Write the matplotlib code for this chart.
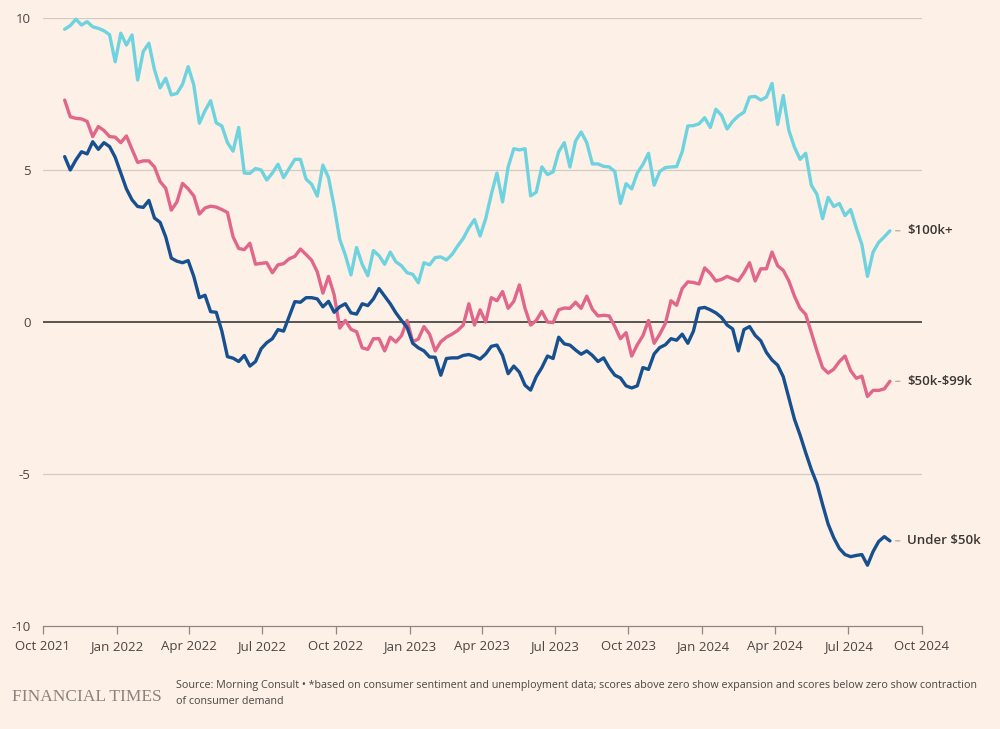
import pandas as pd
import matplotlib
matplotlib.use('Agg')
import matplotlib.pyplot as plt
import matplotlib.dates as mdates

# Data mingguan
dates = pd.date_range('2021-10-28', periods=148, freq='7D')

high_income = [
    9.63, 9.75, 9.96, 9.77, 9.88, 9.71, 9.66, 9.58, 9.45, 8.56,
    9.50, 9.11, 9.44, 7.96, 8.90, 9.17, 8.30, 7.70, 8.02, 7.47,
    7.52, 7.82, 8.40, 7.80, 6.54, 6.95, 7.28, 6.55, 6.45, 5.90,
    5.62, 6.40, 4.90, 4.89, 5.05, 5.00, 4.67, 4.90, 5.19, 4.75,
    5.05, 5.35, 5.35, 4.70, 4.53, 4.14, 5.16, 4.75, 3.80, 2.72,
    2.20, 1.55, 2.45, 1.90, 1.52, 2.35, 2.18, 1.90, 2.30, 1.98,
    1.85, 1.62, 1.57, 1.29, 1.95, 1.88, 2.12, 2.14, 2.04, 2.22,
    2.50, 2.75, 3.10, 3.37, 2.83, 3.40, 4.20, 4.90, 3.95, 5.10,
    5.70, 5.66, 5.70, 4.15, 4.27, 5.10, 4.85, 4.94, 5.60, 5.90,
    5.10, 5.95, 6.25, 5.90, 5.20, 5.20, 5.12, 5.10, 4.95, 3.90,
    4.55, 4.38, 4.90, 5.18, 5.55, 4.50, 4.95, 5.08, 5.10, 5.11,
    5.60, 6.45, 6.46, 6.52, 6.72, 6.40, 7.00, 6.80, 6.35, 6.60,
    6.78, 6.90, 7.40, 7.42, 7.30, 7.40, 7.85, 6.50, 7.45, 6.30,
    5.75, 5.35, 5.55, 4.50, 4.20, 3.40, 4.10, 3.80, 3.90, 3.50,
    3.70, 3.10, 2.55, 1.50, 2.30, 2.62, 2.80, 3.00,
]

mid_income = [
    7.30, 6.75, 6.70, 6.68, 6.60, 6.10, 6.43, 6.30, 6.10, 6.08,
    5.90, 6.12, 5.68, 5.25, 5.30, 5.30, 5.10, 4.62, 4.40, 3.68,
    3.95, 4.56, 4.38, 4.15, 3.55, 3.75, 3.81, 3.78, 3.70, 3.60,
    2.80, 2.42, 2.38, 2.59, 1.90, 1.93, 1.95, 1.62, 1.88, 1.92,
    2.08, 2.16, 2.40, 2.22, 2.03, 1.65, 0.95, 1.50, 0.90, -0.20,
    0.05, -0.24, -0.32, -0.85, -0.90, -0.55, -0.55, -0.95, -0.50, -0.66,
    -0.45, 0.05, -0.65, -0.56, -0.15, -0.40, -0.95, -0.65, -0.50, -0.40,
    -0.28, -0.10, 0.60, -0.10, 0.40, 0.00, 0.80, 0.70, 1.00, 0.45,
    0.68, 1.22, 0.45, -0.10, 0.05, 0.35, 0.00, -0.02, 0.40, 0.46,
    0.45, 0.65, 0.45, 0.85, 0.42, 0.20, 0.22, 0.20, -0.15, -0.55,
    -0.35, -1.12, -0.75, -0.45, 0.05, -0.70, -0.40, -0.05, 0.70, 0.55,
    1.10, 1.32, 1.30, 1.25, 1.78, 1.60, 1.35, 1.40, 1.50, 1.42,
    1.35, 1.62, 1.95, 1.35, 1.75, 1.75, 2.30, 1.85, 1.70, 1.35,
    0.85, 0.45, 0.25, -0.35, -0.95, -1.50, -1.68, -1.55, -1.30, -1.12,
    -1.60, -1.85, -1.78, -2.45, -2.25, -2.25, -2.20, -1.95,
]

low_income = [
    5.44, 5.00, 5.33, 5.60, 5.53, 5.93, 5.68, 5.90, 5.77, 5.42,
    4.90, 4.38, 4.02, 3.80, 3.77, 4.00, 3.42, 3.28, 2.80, 2.10,
    2.00, 1.95, 2.02, 1.50, 0.80, 0.88, 0.34, 0.32, -0.30, -1.14,
    -1.19, -1.30, -1.10, -1.45, -1.30, -0.88, -0.68, -0.55, -0.25, -0.30,
    0.18, 0.67, 0.65, 0.80, 0.80, 0.76, 0.50, 0.68, 0.32, 0.50,
    0.60, 0.30, 0.26, 0.60, 0.54, 0.76, 1.10, 0.85, 0.60, 0.30,
    0.05, -0.18, -0.70, -0.85, -0.95, -1.15, -1.16, -1.75, -1.20, -1.18,
    -1.18, -1.10, -1.07, -1.13, -1.22, -1.05, -0.80, -0.76, -1.10, -1.70,
    -1.45, -1.65, -2.08, -2.24, -1.80, -1.50, -1.12, -1.20, -0.50, -0.72,
    -0.76, -0.92, -1.06, -0.95, -1.10, -1.30, -1.18, -1.50, -1.75, -1.84,
    -2.10, -2.17, -2.10, -1.50, -1.56, -1.05, -0.84, -0.75, -0.55, -0.60,
    -0.40, -0.70, -0.30, 0.45, 0.48, 0.40, 0.30, 0.15, -0.10, -0.23,
    -0.95, -0.25, -0.15, -0.44, -0.62, -1.00, -1.25, -1.42, -1.80, -2.50,
    -3.20, -3.72, -4.30, -4.85, -5.32, -6.00, -6.65, -7.10, -7.45, -7.65,
    -7.72, -7.68, -7.65, -8.00, -7.55, -7.22, -7.06, -7.20,
]

series_labels = ['$100k+', '$50k-$99k', 'Under $50k']
series_colors = ['#6ed3df', '#e0668a', '#17508f']

bg = '#fdf0e7'
plt.rcParams['font.family'] = ['Open Sans', 'DejaVu Sans']
plt.rcParams['axes.unicode_minus'] = False

fig = plt.figure(figsize=(10, 7.29), dpi=100, facecolor=bg)
ax = fig.add_axes([0.043, 0.1413, 0.879, 0.834])
ax.set_facecolor(bg)

# Garis bantu horizontal
for y in [10, 5, -5]:
    ax.axhline(y, color='#d3cac1', lw=0.9, zorder=1)
ax.axhline(0, color='#3e3a37', lw=1.2, zorder=1)

for vals, lab, col in zip([high_income, mid_income, low_income], series_labels, series_colors):
    ax.plot(dates, vals, color=col, lw=2.4, solid_joinstyle='round', solid_capstyle='round',
            zorder=3, clip_on=False)
    ax.annotate(lab.replace('$', r'\$'), xy=(dates[-1], vals[-1]), xytext=(17, 0),
                textcoords='offset pixels', va='center', ha='left', fontsize=9.5,
                fontweight='semibold', color='#3a3633',
                arrowprops=dict(arrowstyle='-', color='#a9a29c', lw=0.8, shrinkA=3, shrinkB=4))

ax.set_xlim(pd.Timestamp('2021-10-01'), pd.Timestamp('2024-10-01'))
ax.set_ylim(-10, 10)
ax.set_yticks([-10, -5, 0, 5, 10])
ax.set_yticklabels(['-10', '-5', '0', '5', '10'])

ax.xaxis.set_major_locator(mdates.MonthLocator(bymonth=[1, 4, 7, 10]))
ax.xaxis.set_major_formatter(mdates.DateFormatter('%b %Y'))

for s in ['top', 'right', 'left']:
    ax.spines[s].set_visible(False)
ax.spines['bottom'].set_color('#8e8883')
ax.spines['bottom'].set_linewidth(0.9)

ax.tick_params(axis='x', direction='out', length=6, width=0.9, color='#8e8883',
               labelsize=9.5, labelcolor='#4a4541', pad=4)
ax.tick_params(axis='y', length=0, pad=9, labelsize=9.5, labelcolor='#4a4541')

# Footer
fig.text(0.012, 0.044, 'FINANCIAL TIMES', family=['Liberation Serif', 'DejaVu Serif'],
         fontsize=12.5, color='#8a837d', va='center', ha='left')
fig.text(0.176, 0.049,
         'Source: Morning Consult \u2022 *based on consumer sentiment and unemployment data; '
         'scores above zero show expansion and scores below zero show contraction\n'
         'of consumer demand',
         fontsize=7.75, color='#4a4541', va='center', ha='left', linespacing=1.6)

fig.savefig('out.png', dpi=100, facecolor=bg)
